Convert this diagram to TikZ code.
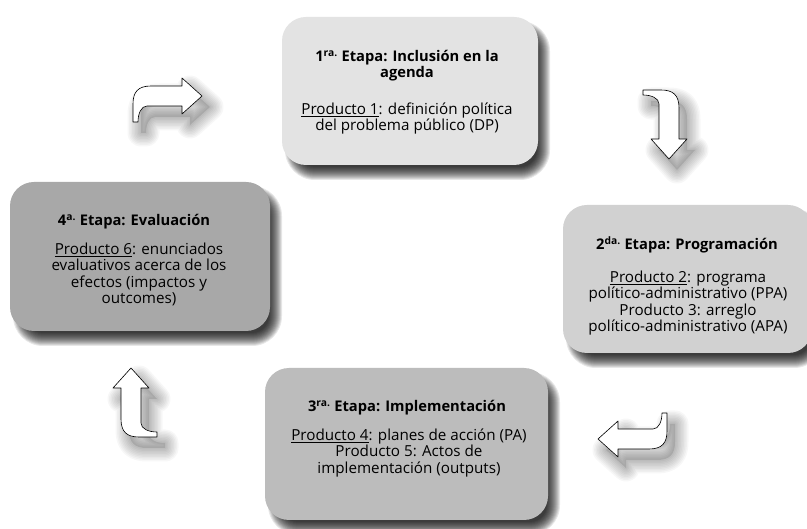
\documentclass[tikz,border=0pt]{standalone}
\usepackage{fontspec}
\setmainfont{Open Sans}
\definecolor{boxA}{RGB}{227,227,227}
\definecolor{boxB}{RGB}{209,209,209}
\definecolor{boxC}{RGB}{188,188,188}
\definecolor{boxD}{RGB}{168,168,168}
\tikzset{
  stagebox/.style={rounded corners=24pt, inner sep=0pt},
  stagetitle/.style={align=center, inner sep=0pt, font=\fontsize{14.7}{16}\selectfont\bfseries},
  stagebody/.style={align=center, inner sep=0pt, font=\fontsize{15.2}{16.4}\selectfont},
  bentarrow/.style={insert path={(0,0) -- (0,-18) .. controls (0,-30) and (5,-36) .. (18,-36) -- (49,-36) -- (49,-44) -- (69,-26) -- (49,-8) -- (49,-16) -- (14,-16) .. controls (8,-16) and (5,-8) .. (5,0) -- cycle}},
  arrowbody/.style={fill=white, draw=black, line width=0.6pt, line join=round},
}
\newcommand\boxshadow[4]{%
  \foreach \i [evaluate=\i as \r using 24+\i] in {-7,...,6}{%
    \fill[black, opacity=0.095, rounded corners=\r pt] ({#1-\i+9},{#2-\i+10}) rectangle ({#3+\i+6},{#4+\i+9});
  }%
}
\newcommand\arrowshadow[3]{% x y angle
  \begin{scope}[shift={(#1+8,#2+11)}, rotate=#3]
    \fill[black, opacity=0.1, bentarrow];
    \foreach \w in {3,6,...,27}{\draw[black, opacity=0.03, line width=\w pt, line join=round, bentarrow];}
  \end{scope}%
}
\newcommand\bentblock[3]{%
  \begin{scope}[shift={(#1,#2)}, rotate=#3]
    \draw[arrowbody, bentarrow];
  \end{scope}%
}
\begin{document}
\begin{tikzpicture}[x=1pt,y=-1pt]
\useasboundingbox (0,0) rectangle (807,529);
\fill[white] (0,0) rectangle (807,529);

% shadows
\boxshadow{282}{17}{538}{165}
\boxshadow{563}{205}{812}{353}
\boxshadow{265}{368}{548}{520}
\boxshadow{10}{182}{270}{331}
\arrowshadow{133}{122}{0}
\arrowshadow{643}{90}{-90}
\arrowshadow{667}{413}{180}
\arrowshadow{157}{437}{90}

% boxes
\node[stagebox, fill=boxA, minimum width=256pt, minimum height=148pt] (s1) at (410,91) {};
\node[stagebox, fill=boxB, minimum width=249pt, minimum height=148pt] (s2) at (687.5,279) {};
\node[stagebox, fill=boxC, minimum width=283pt, minimum height=152pt] (s3) at (406.5,444) {};
\node[stagebox, fill=boxD, minimum width=260pt, minimum height=149pt] (s4) at (140,256.5) {};

% texts
\node[stagetitle] (t1) at (407,66) {1\textsuperscript{ra.} Etapa: Inclusión en la\\agenda};
\node[stagebody] (b1) at (407,118.5) {\underline{Producto 1}: definición política\\del problema público (DP)};

\node[stagetitle] (t2) at (687,245) {2\textsuperscript{da.} Etapa: Programación};
\node[stagebody] (b2) at (688,303) {\underline{Producto 2}: programa\\político-administrativo (PPA)\\Producto 3: arreglo\\político-administrativo (APA)};

\node[stagetitle] (t3) at (407,408) {3\textsuperscript{ra.} Etapa: Implementación};
\node[stagebody] (b3) at (409,453) {\underline{Producto 4}: planes de acción (PA)\\Producto 5: Actos de\\implementación (outputs)};

\node[stagetitle] (t4) at (134,222) {4\textsuperscript{a.} Etapa: Evaluación};
\node[stagebody] (b4) at (139,274.5) {\underline{Producto 6}: enunciados\\evaluativos acerca de los\\efectos (impactos y\\outcomes)};

% bent arrows
\bentblock{133}{122}{0}
\bentblock{643}{90}{-90}
\bentblock{667}{413}{180}
\bentblock{157}{437}{90}
\end{tikzpicture}
\end{document}
